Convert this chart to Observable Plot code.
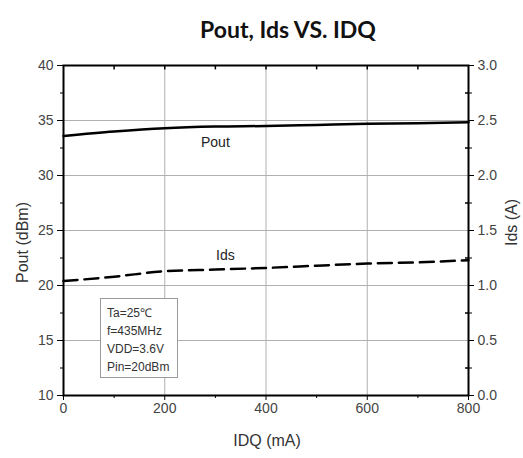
<!DOCTYPE html>
<html><head><meta charset="utf-8">
<script src="https://cdn.jsdelivr.net/npm/d3@7"></script>
<script src="https://cdn.jsdelivr.net/npm/@observablehq/plot@0.6"></script>
<style>
body{margin:0;background:#fff;}
#wrap{position:relative;width:523px;height:458px;}
#note{position:absolute;left:100px;top:298px;width:78px;height:80px;border:1px solid #999;background:#fff;
font-family:"Liberation Sans",Arial,sans-serif;font-size:12px;color:#333;line-height:18px;padding:5px 0 0 6px;box-sizing:border-box;}
</style>
</head><body><div id="wrap"></div>
<script>
const idq  = [0, 100, 200, 300, 400, 500, 600, 700, 800];
const pout = [33.6, 34.0, 34.3, 34.45, 34.5, 34.6, 34.7, 34.75, 34.85];
const ids  = [1.04, 1.08, 1.13, 1.145, 1.16, 1.18, 1.2, 1.21, 1.23];
const xTicks = [0, 200, 400, 600, 800];
const xMinor = [100, 300, 500, 700];
const yTicks = [10, 15, 20, 25, 30, 35, 40];
const yMinor = [12.5, 17.5, 22.5, 27.5, 32.5, 37.5];
const idsTicks = [0, 0.5, 1.0, 1.5, 2.0, 2.5, 3.0];
const idsMinor = [0.25, 0.75, 1.25, 1.75, 2.25, 2.75];
const notes = ["Ta=25℃", "f=435MHz", "VDD=3.6V", "Pin=20dBm"];

// map Ids (A) onto Pout (dBm) scale: 0 A -> 10 dBm, 3 A -> 40 dBm
const toP = a => 10 + a * 10;
const fromP = p => (p - 10) / 10;

const poutData = idq.map((x, i) => ({x, y: pout[i]}));
const idsData = idq.map((x, i) => ({x, y: toP(ids[i])}));

const font = '"Liberation Sans", Arial, sans-serif';

const chart = Plot.plot({
  width: 523, height: 458,
  marginLeft: 63, marginRight: 55, marginTop: 65, marginBottom: 63,
  style: {fontFamily: font, fontSize: "14px", color: "#444", background: "#fff"},
  x: {type: "linear", domain: [0, 800]},
  y: {type: "linear", domain: [10, 40]},
  marks: [
    Plot.gridX([200, 400, 600], {stroke: "#b0b0b0", strokeOpacity: 1}),
    Plot.gridY([15, 20, 25, 30, 35], {stroke: "#b0b0b0", strokeOpacity: 1}),
    Plot.axisX({ticks: xTicks, tickSize: 5, tickPadding: 3, label: null, fontSize: 14, fontFamily: font, stroke: "#000"}),
    Plot.axisX({ticks: xMinor, tickSize: 3, tickFormat: () => "", label: null, stroke: "#000"}),
    Plot.axisY({ticks: yTicks, tickSize: 6, tickPadding: 4, label: null, fontSize: 14, fontFamily: font, stroke: "#000"}),
    Plot.axisY({ticks: yMinor, tickSize: 3, tickFormat: () => "", label: null, stroke: "#000"}),
    Plot.axisY({anchor: "right", ticks: idsTicks.map(toP), tickSize: 5, tickPadding: 4,
      tickFormat: d => fromP(d).toFixed(1), label: null, fontSize: 14, fontFamily: font, stroke: "#000"}),
    Plot.axisY({anchor: "right", ticks: idsMinor.map(toP), tickSize: 3, tickFormat: () => "", label: null, stroke: "#000"}),
    Plot.ruleX([...xMinor, 200, 400, 600], {x: d => d, y1: 40, y2: 39.6, stroke: "#000", strokeWidth: 1.5}),
    Plot.ruleY([...idsMinor.map(toP)], {y: d => d, x1: 800, x2: 794, stroke: "#000", strokeWidth: 1.5}),
    Plot.frame({stroke: "#000", strokeWidth: 2}),
    Plot.line(poutData, {x: "x", y: "y", stroke: "#000", strokeWidth: 2.5, curve: "monotone-x"}),
    Plot.line(idsData, {x: "x", y: "y", stroke: "#000", strokeWidth: 2.5, strokeDasharray: "14,7", curve: "monotone-x"}),
    Plot.text([poutData[3]], {x: "x", y: "y", text: () => "Pout", dy: 16, fill: "#222", fontSize: 14, fontFamily: font}),
    Plot.text([idsData[3]], {x: "x", y: "y", text: () => "Ids", dy: -14, dx: 10, fill: "#222", fontSize: 14, fontFamily: font}),
    Plot.text(["Pout, Ids VS. IDQ"], {frameAnchor: "top", dy: -44, dx: 22, text: d => d, fontSize: 23,
      fontWeight: "bold", fontFamily: "Lato, 'Open Sans', sans-serif", fill: "#111"}),
    Plot.text(["Pout (dBm)"], {frameAnchor: "left", textAnchor: "middle", dx: -41, dy: 12, rotate: -90, text: d => d, fontSize: 16, fill: "#333", fontFamily: font}),
    Plot.text(["Ids (A)"], {frameAnchor: "right", textAnchor: "middle", dx: 43, dy: -8, rotate: -90, text: d => d, fontSize: 16, fill: "#333", fontFamily: font}),
    Plot.text(["IDQ (mA)"], {frameAnchor: "bottom", dy: 50, dx: 1, text: d => d, fontSize: 16, fill: "#333", fontFamily: font})
  ]
});
const wrap = document.getElementById("wrap");
wrap.appendChild(chart);
const note = document.createElement("div");
note.id = "note";
note.innerHTML = notes.map(t => `<div>${t}</div>`).join("");
wrap.appendChild(note);
</script>
</body></html>
